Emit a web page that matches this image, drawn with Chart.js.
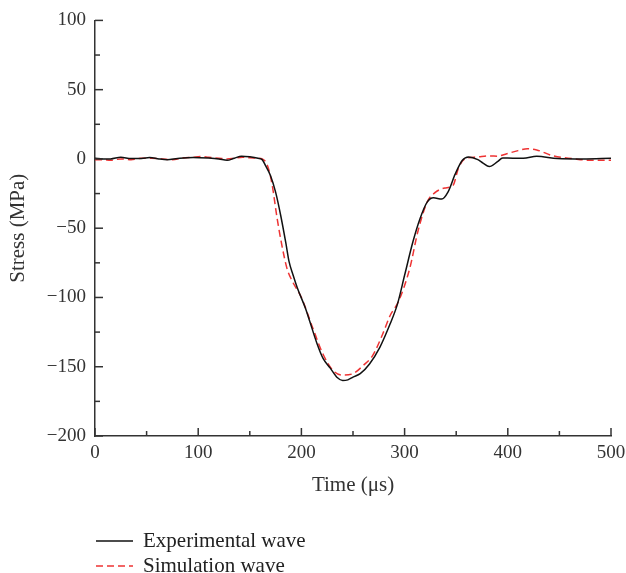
<!DOCTYPE html>
<html>
<head>
<meta charset="utf-8">
<script src="https://cdn.jsdelivr.net/npm/chart.js@4.4.1/dist/chart.umd.min.js"></script>
<style>
  body { margin: 0; background: #fff; }
  #wrap { position: relative; width: 626px; height: 573px; }
  #legend { position: absolute; left: 96px; top: 528px; font-family: "Liberation Serif", serif; font-size: 21px; color: #222; }
  #legend div { height: 25px; display: flex; align-items: center; }
  #legend svg { margin-right: 10px; }
</style>
</head>
<body>
<div id="wrap">
  <canvas id="stressChart" width="626" height="573"></canvas>
  <div id="legend">
    <div><svg width="37" height="4"><line x1="0" y1="2" x2="37" y2="2" stroke="#111" stroke-width="1.5"/></svg>Experimental wave</div>
    <div><svg width="37" height="4"><line x1="0" y1="2" x2="37" y2="2" stroke="#ee3333" stroke-width="1.5" stroke-dasharray="7 4"/></svg>Simulation wave</div>
  </div>
</div>
<script>
// Experimental wave (time in µs, stress in MPa)
const expTime = [0, 8, 15, 25, 35, 45, 53, 62, 70, 80, 95, 110, 120, 128, 135, 142, 150, 158, 162, 165, 170, 175, 180, 185, 188, 192, 196, 204, 208, 215, 221, 228, 235, 240, 245, 250, 257, 266, 276, 286, 293, 300, 308, 315, 322, 328, 336, 342, 349, 356, 362, 371, 376, 382, 390, 395, 405, 415, 428, 448, 473, 500];
const expStress = [0.5, 0, 0, 1.2, 0.3, 0.3, 1, 0, -0.5, 0.3, 1, 0.6, 0, -1, 0.5, 2, 1.5, 0.5, -0.5, -4.5, -12, -24, -41, -61, -74, -84, -93, -108, -117, -133, -144, -151, -158, -160, -159.5, -157.5, -155, -148, -136, -119, -105, -84, -60, -43, -31, -28, -29, -24, -11, -1, 1.4, -0.5, -3, -5.5, -2, 0.7, 0.5, 0.5, 1.9, 0.3, 0, 0.5];

// Simulation wave
const simTime = [0, 8, 15, 25, 35, 45, 55, 65, 75, 85, 95, 102, 110, 120, 128, 135, 143, 150, 158, 162, 167, 171.5, 176.5, 181, 186, 191, 200, 211, 221, 231, 240, 250, 260, 269, 279, 286, 294, 305, 313, 322, 330, 339, 347, 352, 358.5, 370, 383, 390, 399, 410, 419, 428, 444, 463, 480, 500];
const simStress = [-0.5, -0.5, -1, 0, -0.5, 0.5, 0.5, 0, -0.5, 0.8, 1.2, 1.7, 1.2, 0.5, 0, 0.5, 1.2, 0.8, 0.5, 0, -4.5, -18, -43, -62, -79, -88, -100, -122, -141, -153, -156, -155, -149, -142, -126, -113, -103, -79, -52, -31, -24, -21, -19, -7, 0, 1.4, 2.2, 2, 3.8, 6, 7.4, 6.5, 2.2, 0.2, -1, -1];

// tick values
const xTicks = [0, 100, 200, 300, 400, 500];
const yTicks = [-200, -150, -100, -50, 0, 50, 100];

const FONT = { family: '"Liberation Serif", serif', size: 19 };
const TITLE_FONT = { family: '"Liberation Serif", serif', size: 21 };
const AXIS_COLOR = '#333';

function toPoints(xs, ys) {
    return xs.map((x, i) => ({ x: x, y: ys[i] }));
}

// ticks drawn inward, major and minor
const innerTicks = {
    id: 'innerTicks',
    afterDraw(chart) {
        const ctx = chart.ctx;
        const xs = chart.scales.x, ys = chart.scales.y;
        const area = chart.chartArea;
        ctx.save();
        ctx.strokeStyle = AXIS_COLOR;
        ctx.lineWidth = 1.5;
        for (let v = 0; v <= 500; v += 50) {
            const px = xs.getPixelForValue(v);
            const len = xTicks.includes(v) ? 8 : 5;
            ctx.beginPath();
            ctx.moveTo(px, area.bottom);
            ctx.lineTo(px, area.bottom - len);
            ctx.stroke();
        }
        for (let v = -200; v <= 100; v += 25) {
            const py = ys.getPixelForValue(v);
            const len = yTicks.includes(v) ? 8 : 5;
            ctx.beginPath();
            ctx.moveTo(area.left, py);
            ctx.lineTo(area.left + len, py);
            ctx.stroke();
        }
        ctx.restore();
    }
};

const ctx = document.getElementById('stressChart').getContext('2d');
const stressChart = new Chart(ctx, {
    type: 'line',
    data: {
        datasets: [{
            label: 'Experimental wave',
            data: toPoints(expTime, expStress),
            borderColor: '#111',
            borderWidth: 1.5,
            pointRadius: 0,
            fill: false,
            cubicInterpolationMode: 'monotone'
        },
        {
            label: 'Simulation wave',
            data: toPoints(simTime, simStress),
            borderColor: '#ee3333',
            borderWidth: 1.5,
            borderDash: [7, 4],
            pointRadius: 0,
            fill: false,
            cubicInterpolationMode: 'monotone'
        }]
    },
    options: {
        responsive: false,
        animation: false,
        layout: { padding: { top: 18, right: 0, bottom: 75, left: 0 } },
        plugins: {
            legend: { display: false },
            tooltip: { enabled: false }
        },
        scales: {
            x: {
                type: 'linear',
                min: 0,
                max: 500,
                afterFit: s => { s.height = 62; s.paddingRight = 15; },
                afterBuildTicks: s => { s.ticks = xTicks.map(v => ({ value: v })); },
                grid: { display: false, drawTicks: false },
                border: { display: true, color: AXIS_COLOR, width: 1.5 },
                ticks: { color: '#333', font: FONT, padding: 6, maxRotation: 0 },
                title: { display: true, text: 'Time (μs)', color: '#333', font: TITLE_FONT, padding: { top: 0, bottom: 0 } }
            },
            y: {
                min: -200,
                max: 100,
                afterFit: s => { s.width = 95; },
                afterBuildTicks: s => { s.ticks = yTicks.map(v => ({ value: v })); },
                grid: { display: false, drawTicks: false },
                border: { display: true, color: AXIS_COLOR, width: 1.5 },
                ticks: { color: '#333', font: FONT, padding: 9, callback: v => (v < 0 ? '\u2212' + Math.abs(v) : v) },
                title: { display: true, text: 'Stress (MPa)', color: '#333', font: TITLE_FONT, padding: { top: 6, bottom: 0 } }
            }
        }
    },
    plugins: [innerTicks]
});
</script>
</body>
</html>
